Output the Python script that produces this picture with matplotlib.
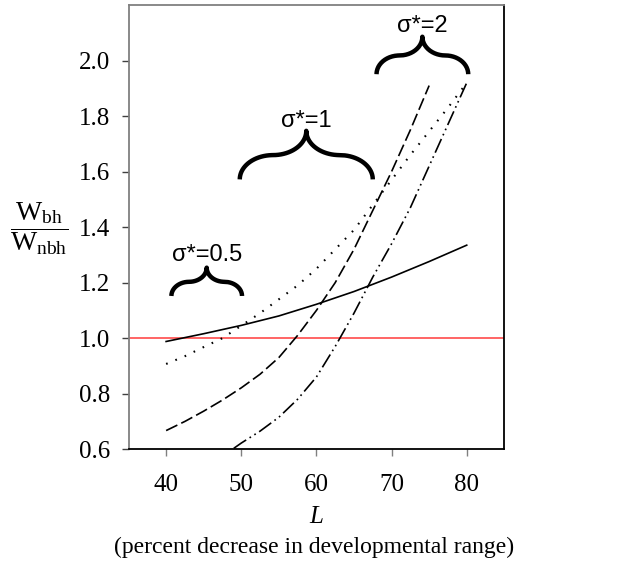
import matplotlib
matplotlib.use("Agg")
import matplotlib.pyplot as plt
import numpy as np

plt.rcParams['font.family'] = 'Liberation Serif'
plt.rcParams['mathtext.fontset'] = 'custom'
plt.rcParams['mathtext.rm'] = 'Liberation Serif'
plt.rcParams['mathtext.it'] = 'Liberation Serif:italic'

# values
L_solid = [40, 45, 50, 55, 60, 65, 70, 75, 80]
w_solid = [0.988, 1.016, 1.046, 1.080, 1.122, 1.168, 1.220, 1.276, 1.335]

L_dot = [40, 42.5, 45, 47.5, 50, 52.5, 55, 57.5, 60, 62.5, 65, 67.5, 70, 72.5, 75, 77.5, 80]
w_dot = [0.907, 0.935, 0.968, 1.000, 1.045, 1.090, 1.140, 1.190, 1.250, 1.320, 1.390,
         1.480, 1.570, 1.660, 1.745, 1.830, 1.920]

L_dash = [40, 42.5, 45, 47.5, 50, 52.5, 55, 57.5, 60, 62.5, 65, 67.5, 70, 72.5, 75]
w_dash = [0.667, 0.700, 0.737, 0.777, 0.821, 0.870, 0.930, 1.010, 1.100, 1.200, 1.320,
          1.460, 1.600, 1.750, 1.910]

L_dd = [49, 50, 52.5, 55, 57.5, 60, 62.5, 65, 67.5, 70, 72.5, 75, 77.5, 80]
w_dd = [0.603, 0.622, 0.665, 0.715, 0.780, 0.860, 0.970, 1.090, 1.220, 1.340, 1.470,
        1.620, 1.770, 1.920]

x_ticks = [40, 50, 60, 70, 80]
y_ticks = [0.6, 0.8, 1.0, 1.2, 1.4, 1.6, 1.8, 2.0]

# brace annotations: label, left end, right end, end height, brace height, label y
braces = [
    ("σ*=0.5", 40.7, 50.1, 1.152, 0.102, 1.300),
    ("σ*=1", 49.8, 67.5, 1.572, 0.175, 1.783),
    ("σ*=2", 68.0, 80.2, 1.951, 0.135, 2.125),
]


def draw_brace(ax, x0, x1, y0, h, frac=0.5):
    xm = (x0 + x1) / 2
    half = xm - x0
    rx = frac * half
    ry = h / 2
    t1 = np.linspace(np.pi, np.pi / 2, 40)
    t2 = np.linspace(-np.pi / 2, 0, 40)
    xs = np.concatenate([x0 + rx + rx * np.cos(t1), xm - rx + rx * np.cos(t2)])
    ys = np.concatenate([y0 + ry * np.sin(t1), y0 + h + ry * np.sin(t2)])
    xs = np.concatenate([xs, (2 * xm - xs)[::-1]])
    ys = np.concatenate([ys, ys[::-1]])
    ax.plot(xs, ys, color='black', lw=3.2, solid_capstyle='butt', clip_on=False)


fig = plt.figure(figsize=(6.18, 5.65), dpi=100)
ax = fig.add_axes([0.208, 0.205, 0.608, 0.786])

ax.axhline(1.0, color='#ff3b3b', lw=1.1)
ax.plot(L_solid, w_solid, color='black', lw=1.2)
ax.plot(L_dot, w_dot, color='black', lw=1.5, linestyle=(0, (0.8, 4.0)))
ax.plot(L_dash, w_dash, color='black', lw=1.2, linestyle=(0, (7.5, 2.6)))
ax.plot(L_dd, w_dd, color='black', lw=1.2, linestyle=(0, (9, 2.4, 1.0, 2.4, 1.0, 2.4)))

for label, x0, x1, y0, h, ty in braces:
    draw_brace(ax, x0, x1, y0, h)
    ax.text((x0 + x1) / 2, ty, label, family='Liberation Sans', fontsize=17,
            ha='center', va='center')

ax.set_xlim(35, 85)
ax.set_ylim(0.6, 2.2)
ax.set_xticks(x_ticks)
ax.set_yticks(y_ticks)
ax.set_yticklabels([f"{v:.1f}" for v in y_ticks])
ax.tick_params(axis='x', labelsize=18, length=5, width=1, color='#808080', pad=13)
ax.tick_params(axis='y', labelsize=18, length=5, width=1, color='#404040', pad=8)

for side in ['left', 'top']:
    ax.spines[side].set_color('#808080')
    ax.spines[side].set_linewidth(1.3)
for side in ['bottom', 'right']:
    ax.spines[side].set_color('black')
    ax.spines[side].set_linewidth(1.3)

fig.text(0.512, 0.085, "L", fontsize=18, style='italic', ha='center', va='center')
fig.text(0.508, 0.032, "(percent decrease in developmental range)", fontsize=17,
         ha='center', va='center')
fig.text(0.063, 0.596, r'$\dfrac{\mathrm{W}_{\mathrm{bh}}}{\mathrm{W}_{\mathrm{nbh}}}$',
         fontsize=20, ha='center', va='center')

fig.savefig("out.png", dpi=100)
